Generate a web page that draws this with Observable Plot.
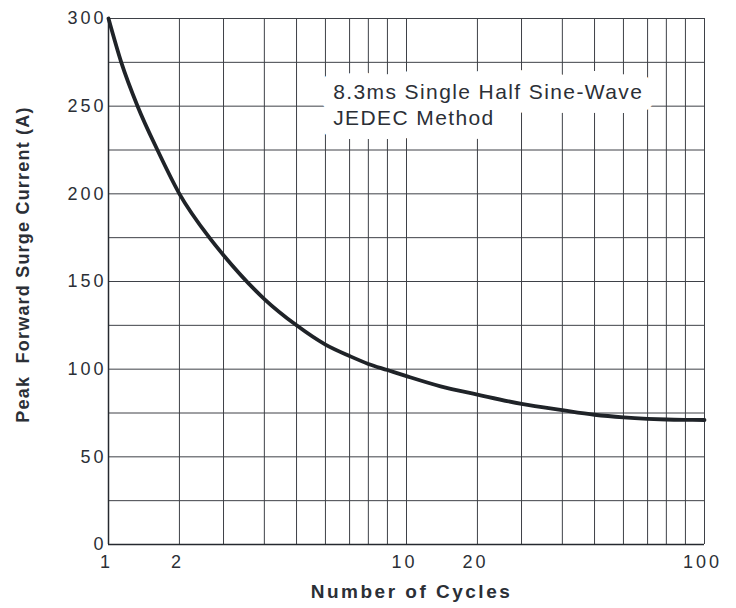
<!DOCTYPE html>
<html>
<head>
<meta charset="utf-8">
<script src="https://cdn.jsdelivr.net/npm/d3@7"></script>
<script src="https://cdn.jsdelivr.net/npm/@observablehq/plot@0.6"></script>
<style>
  body { margin: 0; background: #fff; }
</style>
</head>
<body>
<div id="chart"></div>
<script>
// ---- data ----
const cycles       = [1, 1.18, 1.41, 1.69, 2, 2.68, 3, 4, 5, 6, 7, 8, 9, 10, 14.8, 20, 30, 40, 50, 60, 70, 80, 90, 100];
const surgeCurrent = [300, 275, 250, 225, 200, 175, 165, 140, 125, 114, 107.5, 103, 99.5, 96, 90.2, 85.5, 80.2, 76.6, 74, 72.5, 71.7, 71.3, 71.1, 71];

const xGridValues = [1, 2, 3, 4, 5, 6, 7, 8, 9, 10, 20, 30, 40, 50, 60, 70, 80, 90, 100];
const xTickValues = [1, 2, 10, 20, 100];
const yGridValues = [0, 25, 50, 75, 100, 125, 150, 175, 200, 225, 250, 275, 300];
const yTickValues = [0, 50, 100, 150, 200, 250, 300];

const xTitle = "Number of Cycles";
const yTitle = "Peak\u00a0 Forward Surge Current (A)";
const noteLines = ["8.3ms Single Half Sine-Wave", "JEDEC Method"];
const noteCycles = 6.32;   // annotation anchor (data space)
const noteCurrent = 264.6;

// The reference's cycle axis is not a true log axis: every decade repeats
// this (non-logarithmic) spacing of its 1..10 grid lines, as a share of the decade.
const decadeShare = [0, 0.238, 0.386, 0.523, 0.631, 0.728, 0.809, 0.872, 0.936, 1];

const W = 736, H = 608, mL = 108, mR = 32, mT = 18, mB = 64;
const decadeWidth = (W - mL - mR) / 2;
const xRange = xGridValues.map((v, i) => {
  const decade = i < 10 ? 0 : 1;
  const share = i < 10 ? decadeShare[i] : decadeShare[i - 9];
  return mL + (decade + share) * decadeWidth;
});

const data = cycles.map((c, i) => ({cycles: c, current: surgeCurrent[i]}));
const note = [{x: noteCycles, y: noteCurrent, text: noteLines.join("\n")}];

const ink = "#2b2f36";
const gridColor = "#3e4147";

const noteStyle = {
  x: "x", y: "y", text: "text",
  textAnchor: "start", lineAnchor: "top", lineHeight: 1.24,
  fontSize: 21
};

const chart = Plot.plot({
  width: W,
  height: H,
  marginLeft: mL,
  marginRight: mR,
  marginTop: mT,
  marginBottom: mB,
  style: {
    fontFamily: "'Liberation Sans', Arial, Helvetica, sans-serif",
    fontSize: "18px",
    color: ink,
    background: "#fff"
  },
  x: {type: "linear", domain: xGridValues, range: xRange},
  y: {type: "linear", domain: [0, 300]},
  marks: [
    Plot.gridX(xGridValues, {stroke: gridColor, strokeOpacity: 1, strokeWidth: 1}),
    Plot.gridY(yGridValues, {stroke: gridColor, strokeOpacity: 1, strokeWidth: 1}),
    // white mask behind the note
    Plot.text(note, {...noteStyle, fill: "white", stroke: "white", strokeWidth: 28, strokeLinejoin: "round"}),
    // note text
    Plot.text(note, {...noteStyle, fill: ink}),
    Plot.ruleX([1], {stroke: "#25292f", strokeWidth: 1.5}),
    Plot.ruleY([0], {stroke: "#25292f", strokeWidth: 1.5}),
    Plot.line(data, {
      x: "cycles", y: "current",
      stroke: "#1f2328", strokeWidth: 3.8, curve: "monotone-x"
    }),
    Plot.axisX(xTickValues, {
      tickSize: 0, tickPadding: 11, fontSize: 18, dx: -2,
      tickFormat: d => `${d}`, label: null, fill: ink
    }),
    Plot.axisY(yTickValues, {
      tickSize: 0, tickPadding: 2, fontSize: 18,
      tickFormat: d => `${d}`, label: null, fill: ink
    }),
    Plot.text([yTitle], {
      text: d => d, frameAnchor: "left", textAnchor: "middle", lineAnchor: "middle",
      rotate: -90, dx: -85, dy: -17, fontSize: 18, fontWeight: "bold", fill: ink
    }),
    Plot.text([xTitle], {
      text: d => d, frameAnchor: "bottom", textAnchor: "middle", lineAnchor: "middle",
      dx: 5, dy: 47, fontSize: 19, fontWeight: "bold", fill: ink
    })
  ]
});

const svg = d3.select(chart);
svg.selectAll('g[aria-label="x-axis tick label"] text').attr("letter-spacing", "3px");
svg.selectAll('g[aria-label="y-axis tick label"] text').attr("letter-spacing", "3px");
svg.selectAll("text").each(function () {
  const t = this.textContent;
  if (t.startsWith("8.3ms")) d3.select(this).attr("letter-spacing", "1.4px");
  else if (t.startsWith("Peak")) d3.select(this).attr("letter-spacing", "1.2px");
  else if (t.startsWith("Number")) d3.select(this).attr("letter-spacing", "2.5px");
});

document.getElementById("chart").appendChild(chart);
</script>
</body>
</html>
